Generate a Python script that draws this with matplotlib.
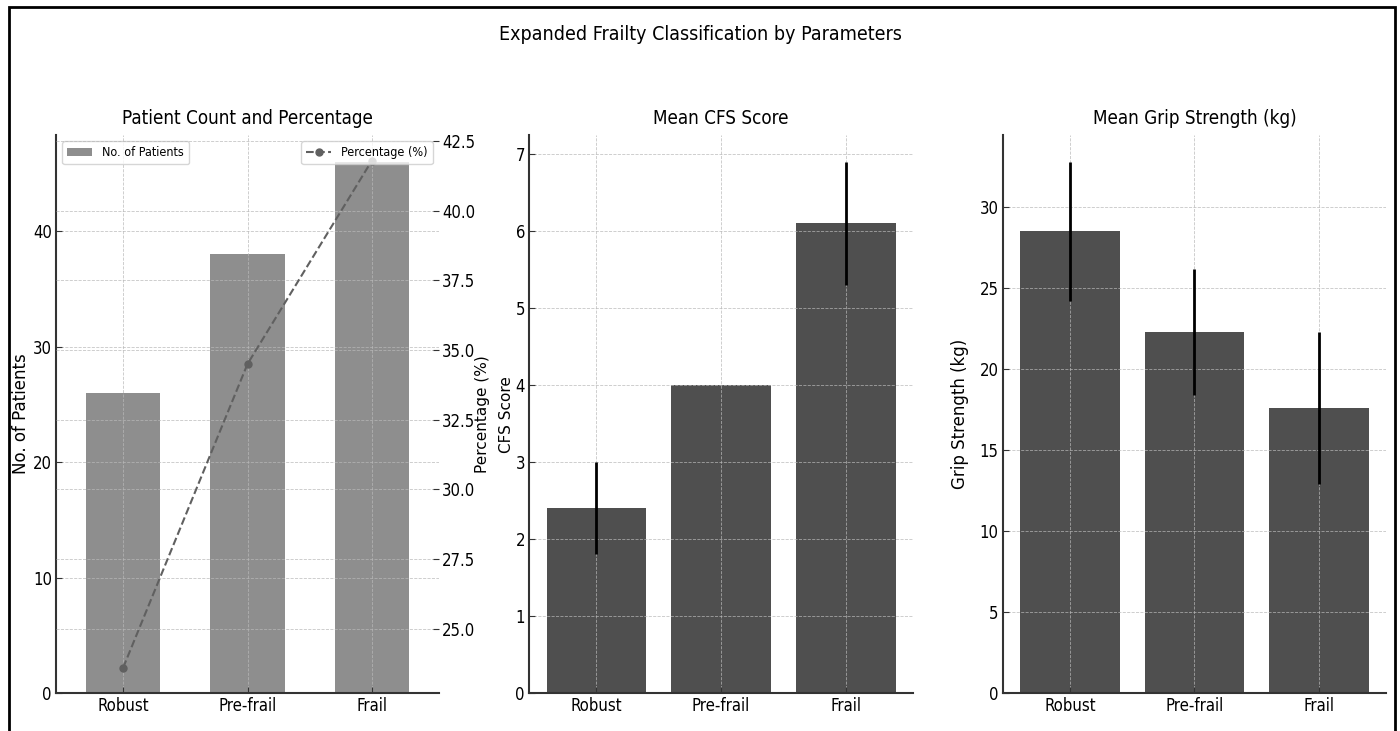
import matplotlib
matplotlib.use('Agg')
import matplotlib.pyplot as plt
import matplotlib.font_manager as fm
from matplotlib.patches import Rectangle
import numpy as np

# data
categories = ['Robust', 'Pre-frail', 'Frail']
patients = [26, 38, 46]
percentages = [23.6, 34.5, 41.8]
cfs_mean = [2.4, 4.0, 6.1]
cfs_err = [0.6, 0.0, 0.8]
grip_mean = [28.5, 22.3, 17.6]
grip_err = [4.3, 3.9, 4.7]

# narrow face for horizontal text (reference looks squashed sideways)
fonts = [(f.name, f.stretch) for f in fm.fontManager.ttflist]
if any(n == 'DejaVu Sans' and s in ('condensed', 'semi-condensed') for n, s in fonts):
    plt.rcParams['font.family'] = ['DejaVu Sans']
    plt.rcParams['font.stretch'] = 'condensed'
elif any(n == 'Liberation Sans Narrow' for n, s in fonts):
    plt.rcParams['font.family'] = ['Liberation Sans Narrow', 'DejaVu Sans']
label_font = dict(family='DejaVu Sans', stretch='normal', fontsize=12)

plt.rcParams['xtick.direction'] = 'in'
plt.rcParams['ytick.direction'] = 'in'

fig = plt.figure(figsize=(14, 7.31), dpi=100)
x = np.arange(len(categories))

def style_axes(ax):
    ax.grid(True, color='#b8b8b8', linestyle='--', linewidth=0.6, alpha=0.8)
    for side in ['top', 'right']:
        ax.spines[side].set_visible(False)
    for side in ['left', 'bottom']:
        ax.spines[side].set_color('#333333')
        ax.spines[side].set_linewidth(1.5)
    ax.tick_params(labelsize=12, length=4, color='#333333', pad=3)
    ax.set_xticks(x)
    ax.set_xticklabels(categories)
    ax.set_xlim(-0.54, 2.54)

# panel 1: patient count + percentage
ax1 = fig.add_axes([0.040, 0.052, 0.2736, 0.763])
ax1.bar(x, patients, width=0.6, color='#8e8e8e', label='No. of Patients')
style_axes(ax1)
ax1.set_ylabel('No. of Patients', labelpad=2, **label_font)
ax1.set_title('Patient Count and Percentage', fontsize=13.5, pad=8)
ax1.legend(loc='upper left', fontsize=9)

ax2 = ax1.twinx()
ax2.plot(x, percentages, color='#606060', linestyle='--', marker='o',
         markersize=5, linewidth=1.5, label='Percentage (%)')
ax2.grid(True, color='#b8b8b8', linestyle='--', linewidth=0.6, alpha=0.8)
for side in ax2.spines:
    ax2.spines[side].set_visible(False)
ax2.tick_params(labelsize=12, length=4, color='#333333', pad=2)
ax2.set_ylabel('Percentage (%)', labelpad=0, family='DejaVu Sans',
               stretch='normal', fontsize=11)
ax2.legend(loc='upper right', fontsize=9)

# panel 2: CFS score
ax3 = fig.add_axes([0.3779, 0.052, 0.2743, 0.763])
ax3.bar(x, cfs_mean, yerr=cfs_err, width=0.8, color='#4f4f4f',
        error_kw=dict(ecolor='black', elinewidth=2))
style_axes(ax3)
ax3.set_ylabel('CFS Score', labelpad=1, family='DejaVu Sans',
               stretch='normal', fontsize=11)
ax3.set_title('Mean CFS Score', fontsize=13.5, pad=8)

# panel 3: grip strength
ax4 = fig.add_axes([0.7164, 0.052, 0.2736, 0.763])
ax4.bar(x, grip_mean, yerr=grip_err, width=0.8, color='#4f4f4f',
        error_kw=dict(ecolor='black', elinewidth=2))
style_axes(ax4)
ax4.set_ylabel('Grip Strength (kg)', labelpad=8, **label_font)
ax4.set_title('Mean Grip Strength (kg)', fontsize=13.5, pad=8)

fig.suptitle('Expanded Frailty Classification by Parameters', fontsize=14, y=0.966)

# black frame round the figure (bottom edge is cut off in the reference)
frame = Rectangle((9 / 1400, -0.05), 1386 / 1400, 1.05 - 7 / 731,
                  transform=fig.transFigure, fill=False, edgecolor='black',
                  linewidth=2, clip_on=False)
fig.patches.append(frame)

fig.savefig('out.png', dpi=100)
